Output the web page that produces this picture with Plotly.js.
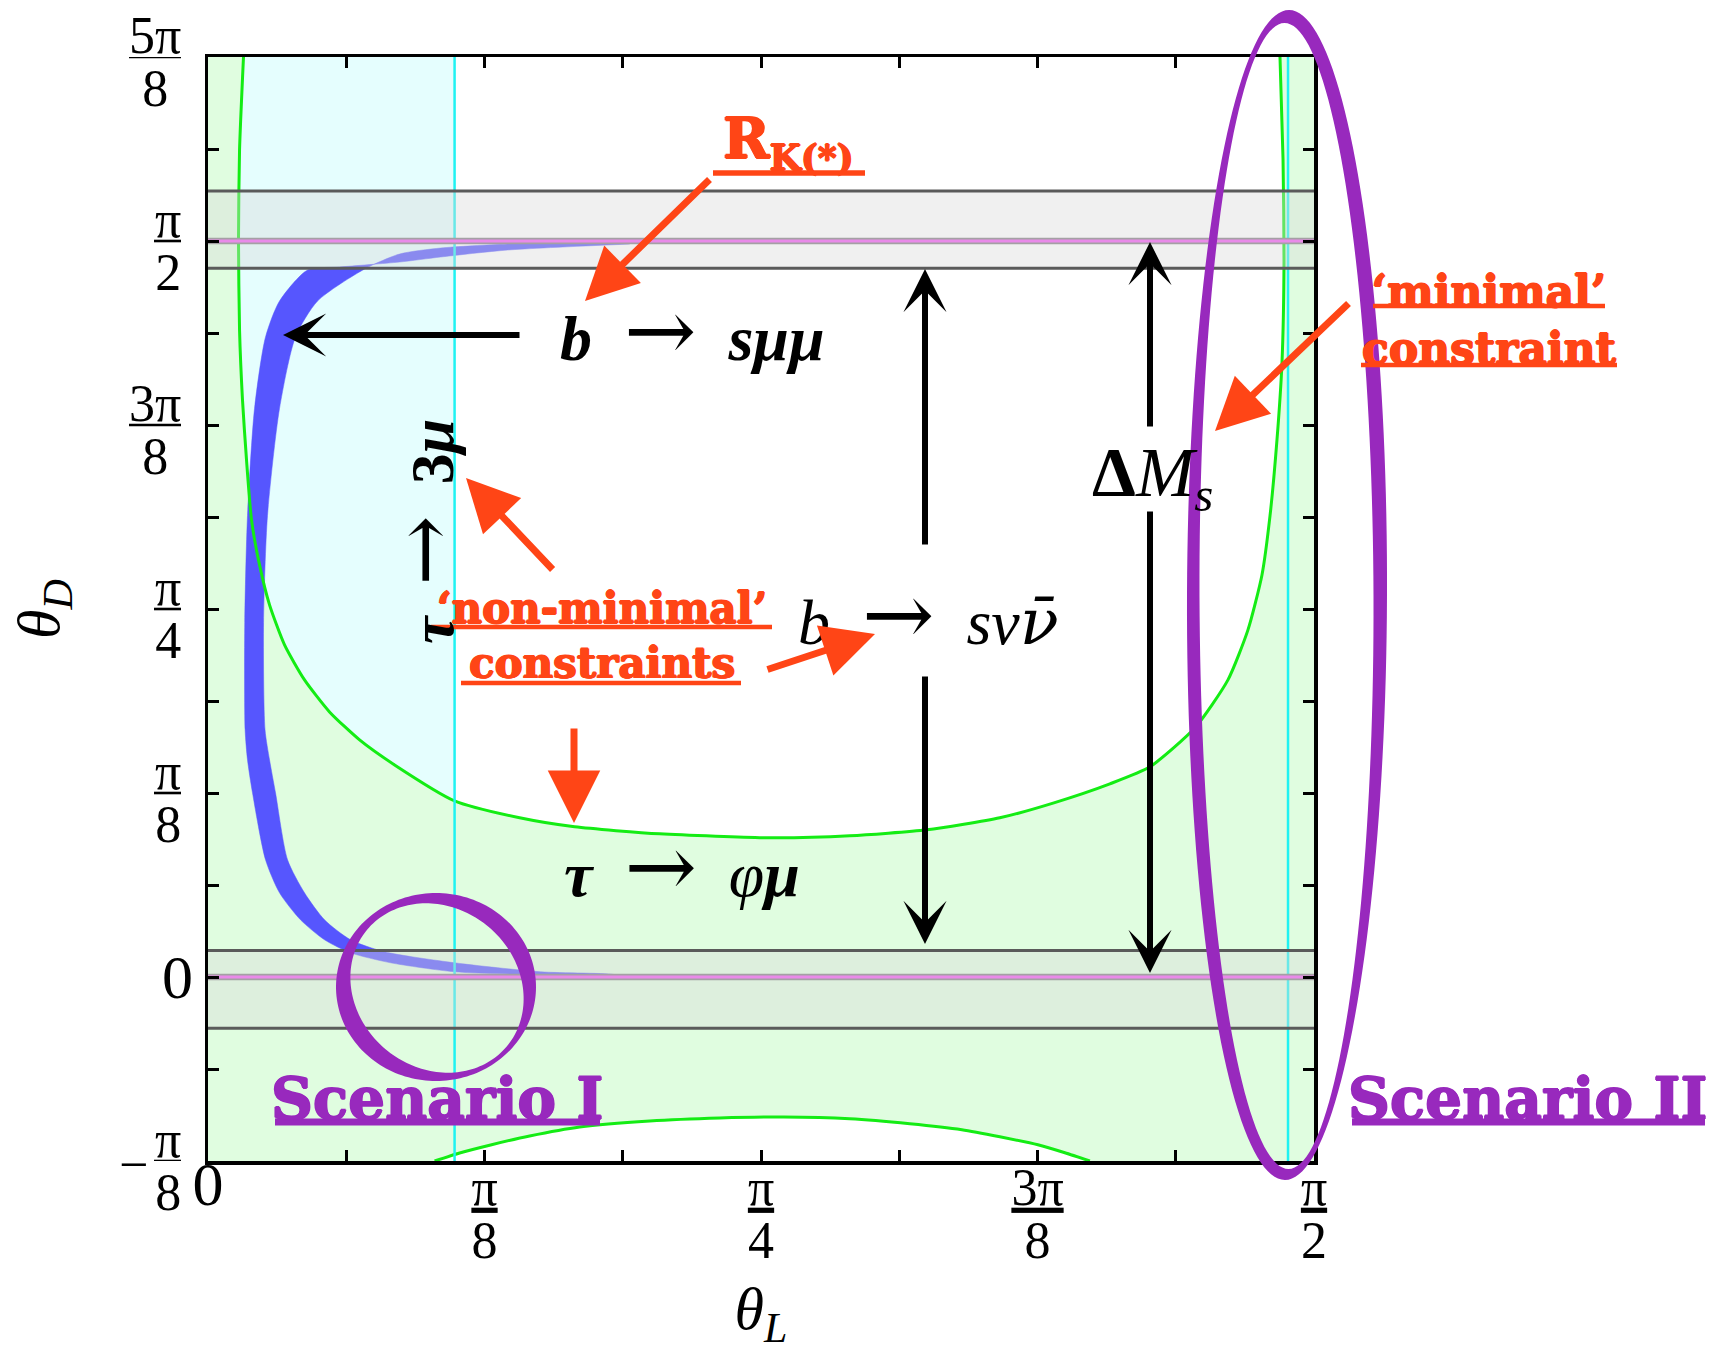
<!DOCTYPE html>
<html>
<head>
<meta charset="utf-8">
<script src="https://cdn.plot.ly/plotly-3.0.1.min.js"></script>
<style>html,body{margin:0;padding:0;background:#fff}</style>
</head>
<body>
<div id="plot" style="width:1721px;height:1351px"></div>
<script>
const PI = Math.PI;

// ---------- axis ranges / ticks ----------
const X_RANGE = [0, PI / 2];
const Y_RANGE = [-PI / 8, 5 * PI / 8];
const X_TICK_STEPS = [0, 1, 2, 3, 4, 5, 6, 7, 8];            // multiples of pi/16
const Y_TICK_STEPS = [-2, -1, 0, 1, 2, 3, 4, 5, 6, 7, 8, 9, 10];
const X_TICK_LABELS = {0: ["", "0", ""], 2: ["π", "8"], 4: ["π", "4"], 6: ["3π", "8"], 8: ["π", "2"]};
const Y_TICK_LABELS = {"-2": ["π", "8", "−"], 0: ["", "0", ""], 2: ["π", "8"], 4: ["π", "4"], 6: ["3π", "8"], 8: ["π", "2"], 10: ["5π", "8"]};

// ---------- green boundary, U shaped ----------
const U_x = [0.0504, 0.0448, 0.0433, 0.0448, 0.0490, 0.0547, 0.0618, 0.0732, 0.0874, 0.1087, 0.1371, 0.1726, 0.2153, 0.2650, 0.3502, 0.4426, 0.5207, 0.6415, 0.8006, 0.9114, 1.0209, 1.1246, 1.2014, 1.2809, 1.3378, 1.4017, 1.4486, 1.4770, 1.4969, 1.5083, 1.5182, 1.5253, 1.5282, 1.5268, 1.5225];
const U_y = [1.9635, 1.7649, 1.5729, 1.3809, 1.2315, 1.1035, 0.9755, 0.8795, 0.7941, 0.7088, 0.6341, 0.5658, 0.5061, 0.4527, 0.3759, 0.3397, 0.3205, 0.3055, 0.2970, 0.3013, 0.3141, 0.3397, 0.3717, 0.4122, 0.4485, 0.5317, 0.6341, 0.7408, 0.8581, 0.9840, 1.1462, 1.3105, 1.5281, 1.7457, 1.9635];

// ---------- green boundary, lower arch ----------
const ARCH_x = [0.3218, 0.3574, 0.4014, 0.4568, 0.5279, 0.6273, 0.7268, 0.8177, 0.9114, 0.9967, 1.0706, 1.1246, 1.1786, 1.2170, 1.2525];
const ARCH_y = [-0.3927, -0.3755, -0.3584, -0.3392, -0.3200, -0.3072, -0.3008, -0.2987, -0.3025, -0.3132, -0.3260, -0.3410, -0.3580, -0.3751, -0.3927];

// ---------- b -> s mu mu band (blue) ----------
const BLUE_OUT_x = [0.5989, 0.4256, 0.3304, 0.2721, 0.1869, 0.1414, 0.1016, 0.0817, 0.0661, 0.0561, 0.0522, 0.0527, 0.0561, 0.0632, 0.0817, 0.1016, 0.1314, 0.1655, 0.2025, 0.2593, 0.3502, 0.4710, 0.5776];
const BLUE_OUT_y = [1.5643, 1.5515, 1.5366, 1.5259, 1.5153, 1.5089, 1.4427, 1.3661, 1.2136, 0.9850, 0.7563, 0.5278, 0.4634, 0.3930, 0.2501, 0.1796, 0.1220, 0.0794, 0.0516, 0.0303, 0.0111, 0.0047, 0.0026];
const BLUE_IN_x = [0.5989, 0.4256, 0.3304, 0.2721, 0.2224, 0.1556, 0.1243, 0.1016, 0.0845, 0.0789, 0.0810, 0.0874, 0.0959, 0.1130, 0.1371, 0.1655, 0.2025, 0.2508, 0.3502, 0.4724, 0.5776];
const BLUE_IN_y = [1.5686, 1.5643, 1.5558, 1.5430, 1.5110, 1.4427, 1.3661, 1.2136, 0.9850, 0.7563, 0.5278, 0.4634, 0.3930, 0.2501, 0.1796, 0.1220, 0.0794, 0.0538, 0.0303, 0.0111, 0.0047];

// ---------- vertical cyan boundaries ----------
const CYAN_X = [0.3502, 1.5339];

// ---------- grey bands ----------
const BAND_CENTER = [0, PI / 2];
const BAND_LOW = [-0.1095, 1.5125];
const BAND_HIGH = [0.0565, 1.6775];

// ---------- colours ----------
const GREEN_BG = '#e0fde0', CYAN_BG = '#e5fefe', GREEN_LINE = '#14ec14', CYAN_LINE = '#1ff2f2';
const BLUE = '#5656fe', GREY_FILL = 'rgba(217,217,217,0.4)', GREY_LINE = '#5a5a5a', PINK = '#e98ae9';
const ORANGE = '#ff4516', PURPLE = '#9829bd';

// ---------- page geometry (plot area in page pixels) ----------
const L = 208, T = 57, W = 1106, H = 1104;
function toPaper(X, Y) { return [(X - L) / W, (T + H - Y) / H]; }

const traces = [];
const NOLINE = {width: 0, color: 'rgba(0,0,0,0)'};
traces.push({x: U_x, y: U_y, type: 'scatter', mode: 'lines', fill: 'toself', fillcolor: '#ffffff', line: NOLINE, hoverinfo: 'skip'});
traces.push({x: ARCH_x, y: ARCH_y, type: 'scatter', mode: 'lines', fill: 'toself', fillcolor: '#ffffff', line: NOLINE, hoverinfo: 'skip'});
(function () {
  const xc = CYAN_X[0], cx = [], cy = [];
  for (let i = 0; i < U_x.length; i++) {
    if (U_x[i] <= xc + 1e-9) { cx.push(U_x[i]); cy.push(U_y[i]); }
    else {
      const f = (xc - U_x[i - 1]) / (U_x[i] - U_x[i - 1]);
      cx.push(xc); cy.push(U_y[i - 1] + f * (U_y[i] - U_y[i - 1]));
      break;
    }
  }
  cx.push(xc); cy.push(Y_RANGE[1]);
  traces.push({x: cx, y: cy, type: 'scatter', mode: 'lines', fill: 'toself', fillcolor: CYAN_BG, line: NOLINE, hoverinfo: 'skip'});
})();
traces.push({x: BLUE_OUT_x.concat(BLUE_IN_x.slice().reverse()), y: BLUE_OUT_y.concat(BLUE_IN_y.slice().reverse()),
  type: 'scatter', mode: 'lines', fill: 'toself', fillcolor: BLUE, line: {width: 0.5, color: BLUE, shape: 'spline', smoothing: 0.7}, hoverinfo: 'skip'});
traces.push({x: U_x, y: U_y, type: 'scatter', mode: 'lines', line: {color: GREEN_LINE, width: 3, shape: 'spline', smoothing: 0.6}, hoverinfo: 'skip'});
traces.push({x: ARCH_x, y: ARCH_y, type: 'scatter', mode: 'lines', line: {color: GREEN_LINE, width: 3, shape: 'spline', smoothing: 0.6}, hoverinfo: 'skip'});
CYAN_X.forEach(xc => traces.push({x: [xc, xc], y: Y_RANGE, type: 'scatter', mode: 'lines', line: {color: CYAN_LINE, width: 2.5}, hoverinfo: 'skip'}));
BAND_CENTER.forEach((c, i) => {
  traces.push({x: [X_RANGE[0], X_RANGE[1], X_RANGE[1], X_RANGE[0]], y: [BAND_LOW[i], BAND_LOW[i], BAND_HIGH[i], BAND_HIGH[i]],
    type: 'scatter', mode: 'lines', fill: 'toself', fillcolor: GREY_FILL, line: NOLINE, hoverinfo: 'skip'});
  [BAND_LOW[i], BAND_HIGH[i]].forEach(v => traces.push({x: X_RANGE, y: [v, v], type: 'scatter', mode: 'lines', line: {color: GREY_LINE, width: 3}, hoverinfo: 'skip'}));
  traces.push({x: X_RANGE, y: [c, c], type: 'scatter', mode: 'lines', line: {color: '#a4a0a4', width: 6.5}, hoverinfo: 'skip'});
  traces.push({x: X_RANGE, y: [c, c], type: 'scatter', mode: 'lines', line: {color: PINK, width: 3}, hoverinfo: 'skip'});
});

// ---------- x tick labels (stacked fractions) ----------
function fracLabel(p) {
  if (!p) return "";
  if (p[0] === "") return "<span style='font-size:62px'>" + p[1] + "</span>";
  return "<span style='font-size:52px;text-decoration:underline'>" + p[0] + "</span><br><span style='font-size:52px'>" + p[1] + "</span>";
}
const xtv = X_TICK_STEPS.map(k => k * PI / 16), xtt = X_TICK_STEPS.map(k => fracLabel(X_TICK_LABELS[k]));
const ytv = Y_TICK_STEPS.map(k => k * PI / 16);

const SERIF = 'Liberation Serif, Times New Roman, serif';
const SLAB = 'DejaVu Serif, serif';
const ARR = "<span style='font-family:DejaVu Serif;font-size:1.35em'>→</span>";

const axisCommon = {showline: true, linewidth: 3.5, linecolor: 'black', mirror: 'ticks', ticks: 'inside', ticklen: 11, tickwidth: 3, tickcolor: 'black',
  showgrid: false, zeroline: false, tickfont: {family: SERIF, size: 41, color: 'black'}, tickmode: 'array', fixedrange: true, ticklabeloverflow: 'allow'};

// ---------- annotations ----------
const ann = [];
const shapes = [];
function label(text, X, Y, o) { const p = toPaper(X, Y); ann.push(Object.assign({xref: 'paper', yref: 'paper', x: p[0], y: p[1], text: text, showarrow: false, xanchor: 'center', yanchor: 'middle'}, o)); }
function arrow(tail, tip, color, width, head, size) {
  const p = toPaper(tip[0], tip[1]);
  ann.push({xref: 'paper', yref: 'paper', x: p[0], y: p[1], ax: tail[0] - tip[0], ay: tail[1] - tip[1], text: '', showarrow: true,
    arrowhead: head, arrowsize: size, arrowwidth: width, arrowcolor: color, standoff: 0});
}

// y tick labels: stacked fractions placed at the tick values of the y axis, with a fraction bar
const YLAB_RIGHT = 181;
Y_TICK_STEPS.forEach(k => {
  const p = Y_TICK_LABELS[k];
  if (!p) return;
  const v = k * PI / 16;
  if (p[0] === "") {
    ann.push({xref: 'paper', yref: 'y', x: toPaper(195, 0)[0], y: v, xanchor: 'right', yanchor: 'middle', showarrow: false,
      text: "<span style='font-size:62px'>" + p[1] + "</span>", font: {family: SERIF, size: 41, color: 'black'}});
    return;
  }
  const w = p[0].length > 1 ? 52 : 27;
  ann.push({xref: 'paper', yref: 'y', x: toPaper(YLAB_RIGHT - w / 2, 0)[0], y: v, xanchor: 'center', yanchor: 'middle', align: 'center', showarrow: false, yshift: -5,
    text: "<span style='font-size:52px'>" + p[0] + "</span><br><span style='font-size:52px'>" + p[1] + "</span>", font: {family: SERIF, size: 41, color: 'black'}});
  shapes.push({type: 'line', xref: 'paper', yref: 'y', x0: toPaper(YLAB_RIGHT - w, 0)[0], x1: toPaper(YLAB_RIGHT, 0)[0], y0: v, y1: v, line: {color: 'black', width: 2.6}});
  if (p[2]) {
    ann.push({xref: 'paper', yref: 'y', x: toPaper(YLAB_RIGHT - w - 4, 0)[0], y: v, xanchor: 'right', yanchor: 'middle', showarrow: false, yshift: -3,
      text: "<span style='font-size:52px'>" + p[2] + "</span>", font: {family: SERIF, size: 41, color: 'black'}});
  }
});

const NB = '\u00a0';
const thick = c => '0.9px 0 0 ' + c + ', -0.9px 0 0 ' + c + ', 0 0.9px 0 ' + c + ', 0 -0.9px 0 ' + c;
label("R<sub><span style='font-size:36px'>K(*)</span></sub>", 788, 142, {font: {family: SLAB, size: 56, color: ORANGE, weight: 'bold', shadow: thick(ORANGE)}});
label("<b><i>b</i></b>" + NB + NB + ARR + NB + NB + "<b><i>sμμ</i></b>", 692, 330, {font: {family: SERIF, size: 64, color: 'black'}});
label("<b><i>τ</i></b>" + NB + NB + ARR + NB + NB + "<b>3<i>μ</i></b>", 424, 532, {textangle: -90, font: {family: SERIF, size: 62, color: 'black'}});
label("‘non-minimal’<br>constraints", 602, 636, {align: 'center', font: {family: SLAB, size: 42, color: ORANGE, weight: 'bold', shadow: thick(ORANGE)}});
label("<i>b</i>" + NB + NB + ARR + NB + NB + "<i>sν<span style='font-family:DejaVu Serif'>ν̄</span></i>", 928, 614, {font: {family: SERIF, size: 64, color: 'black'}});
label("<b><i>τ</i></b>" + NB + NB + ARR + NB + NB + "<i>φ</i><b><i>μ</i></b>", 682, 866, {font: {family: SERIF, size: 64, color: 'black'}});
label("<b>Δ</b><i>M<sub>s</sub></i>", 1152, 478, {font: {family: SERIF, size: 70, color: 'black'}});
label("‘minimal’<br>constraint", 1489, 320, {align: 'center', font: {family: SLAB, size: 44, color: ORANGE, weight: 'bold', shadow: thick(ORANGE)}});
label("Scenario I", 437, 1099, {font: {family: SLAB, size: 58, color: PURPLE, weight: 'bold', shadow: thick(PURPLE)}});
label("Scenario II", 1528, 1099, {font: {family: SLAB, size: 58, color: PURPLE, weight: 'bold', shadow: thick(PURPLE)}});

// orange arrows
arrow([711, 178], [585, 301], ORANGE, 7, 2, 1.5);
arrow([554, 571], [466, 478], ORANGE, 7, 2, 1.5);
arrow([766, 670], [875, 634], ORANGE, 7, 2, 1.5);
arrow([574, 727], [574, 823], ORANGE, 7, 2, 1.5);
arrow([1350, 302], [1215, 431], ORANGE, 7, 2, 1.5);
// black arrows
arrow([521, 335], [283, 335], 'black', 6, 3, 1.2);
arrow([925, 546], [925, 269], 'black', 6, 3, 1.2);
arrow([925, 675], [925, 944], 'black', 6, 3, 1.2);
arrow([1150, 428], [1150, 242], 'black', 6, 3, 1.2);
arrow([1150, 510], [1150, 973], 'black', 6, 3, 1.2);

// ---------- shapes: scenario ellipses and underlines ----------
function ellipsePts(cx, cy, a, b, phiDeg, rev) {
  const phi = phiDeg * PI / 180, pts = [];
  for (let i = 0; i <= 180; i++) {
    const t = (rev ? -1 : 1) * i / 180 * 2 * PI;
    const X = cx + a * Math.cos(t) * Math.cos(phi) - b * Math.sin(t) * Math.sin(phi);
    const Y = cy + a * Math.cos(t) * Math.sin(phi) + b * Math.sin(t) * Math.cos(phi);
    pts.push(toPaper(X, Y));
  }
  return 'M' + pts.map(p => p[0].toFixed(5) + ',' + p[1].toFixed(5)).join('L') + 'Z';
}
shapes.push({type: 'path', xref: 'paper', yref: 'paper', layer: 'above', fillcolor: PURPLE, line: {width: 0},
  path: ellipsePts(436, 987, 100, 94, 0, false) + ellipsePts(437, 988, 91, 80, 40, true)});
shapes.push({type: 'path', xref: 'paper', yref: 'paper', layer: 'above', fillcolor: PURPLE, line: {width: 0},
  path: ellipsePts(1287, 595, 100, 585, 0.2, false) + ellipsePts(1286.5, 596, 87, 573, -0.2, true)});
function underline(x0, x1, y, color, w) {
  const a = toPaper(x0, y), b = toPaper(x1, y);
  shapes.push({type: 'line', xref: 'paper', yref: 'paper', x0: a[0], y0: a[1], x1: b[0], y1: b[1], line: {color: color, width: w}});
}
underline(713, 865, 173, ORANGE, 5.5);
underline(431, 772, 627, ORANGE, 4.5);
underline(461, 741, 683, ORANGE, 4.5);
underline(1373, 1605, 306, ORANGE, 4.5);
underline(1361, 1617, 365, ORANGE, 4.5);
underline(275, 600, 1122, PURPLE, 7);
underline(1352, 1705, 1122, PURPLE, 7);

const layout = {
  width: 1721, height: 1351,
  margin: {l: L, r: 1721 - L - W, t: T, b: 1351 - T - H, pad: 0},
  paper_bgcolor: '#ffffff', plot_bgcolor: GREEN_BG, showlegend: false,
  xaxis: Object.assign({}, axisCommon, {range: X_RANGE, tickvals: xtv, ticktext: xtt, ticklabelstandoff: -9,
    title: {text: '<i>θ<sub>L</sub></i>', font: {family: SERIF, size: 60, color: 'black'}, standoff: 53}}),
  yaxis: Object.assign({}, axisCommon, {range: Y_RANGE, tickvals: ytv, ticktext: ytv.map(() => ''), showticklabels: true,
    title: {text: '<i>θ<sub>D</sub></i>', font: {family: SERIF, size: 60, color: 'black'}, standoff: 118}}),
  annotations: ann,
  shapes: shapes
};

Plotly.newPlot('plot', traces, layout, {displayModeBar: false, staticPlot: true});
</script>
</body>
</html>
